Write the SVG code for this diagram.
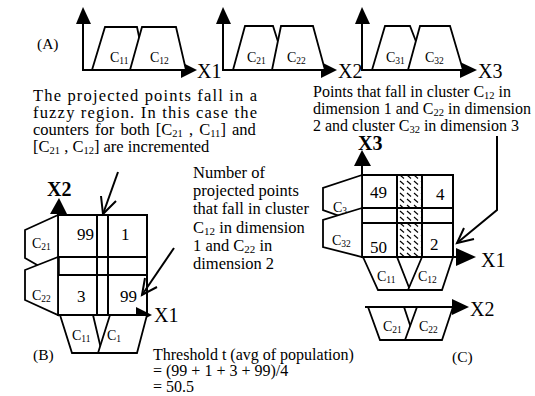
<svg xmlns="http://www.w3.org/2000/svg" width="535" height="396" viewBox="0 0 535 396">
<defs>
<style>
.ln{stroke:#000;stroke-width:2;fill:none}
.tr{stroke:#000;stroke-width:1.8;fill:#fff}
.ah{fill:#000;stroke:none}
.t{font-family:"Liberation Serif","Times New Roman",serif;font-size:15.5px;fill:#000}
.lb{font-family:"Liberation Serif","Times New Roman",serif;font-size:14px;fill:#000}
.ax{font-family:"Liberation Serif","Times New Roman",serif;font-size:20px;fill:#000}
.nm{font-family:"Liberation Serif","Times New Roman",serif;font-size:17px;fill:#000}
.sb{font-size:9.5px}
.p1{font-family:"Liberation Serif","Times New Roman",serif;font-size:16.5px;fill:#000}
.p1 .sb{font-size:10.5px}
.p2{font-family:"Liberation Serif","Times New Roman",serif;font-size:16px;fill:#000}
.p2 .sb{font-size:10.5px}
.p3{font-family:"Liberation Serif","Times New Roman",serif;font-size:16.5px;fill:#000}
.p3 .sb{font-size:11px}
</style>
<pattern id="hatch" width="7" height="6" patternUnits="userSpaceOnUse">
<line x1="1" y1="1" x2="5" y2="4.5" stroke="#000" stroke-width="1.1"/>
</pattern>
</defs>

<!-- Panel A -->
<g id="label-A"><text class="t" x="37" y="49" font-size="16">(A)</text></g>
<g id="axis-x1">
<polyline class="ln" points="83,24 83,70 182,70"/>
<polygon class="ah" points="76,24 91,24 83,7"/>
<polygon class="ah" points="181,62 181,78 197,70"/>
<text class="ax" x="197" y="78">X1</text>
</g>
<g id="c11-a"><polygon class="tr" points="92,70 105,27 137,27 146,70"/><text class="lb" x="110" y="62">C<tspan class="sb" dy="2">11</tspan></text></g>
<g id="c12-a"><polygon class="tr" points="130,70 142,27 176,27 186,70" fill="none"/><text class="lb" x="150" y="62">C<tspan class="sb" dy="2">12</tspan></text></g>

<g id="axis-x2">
<polyline class="ln" points="223,24 223,70 322,70"/>
<polygon class="ah" points="216,24 231,24 223,7"/>
<polygon class="ah" points="321,62 321,78 337,70"/>
<text class="ax" x="338" y="78">X2</text>
</g>
<g id="c21-a"><polygon class="tr" points="233,70 245,26 273,26 287,70"/><text class="lb" x="247" y="62">C<tspan class="sb" dy="2">21</tspan></text></g>
<g id="c22-a"><polygon class="tr" points="272,70 281,26 313,26 325,70" fill="none"/><text class="lb" x="287" y="62">C<tspan class="sb" dy="2">22</tspan></text></g>

<g id="axis-x3">
<polyline class="ln" points="362,24 362,70 461,70"/>
<polygon class="ah" points="355,24 370,24 362,7"/>
<polygon class="ah" points="460,62 460,78 477,70"/>
<text class="ax" x="478" y="78">X3</text>
</g>
<g id="c31-a"><polygon class="tr" points="372,70 385,26 410,26 427,70"/><text class="lb" x="386" y="62">C<tspan class="sb" dy="2">31</tspan></text></g>
<g id="c32-a"><polygon class="tr" points="408,70 420,26 450,26 463,70" fill="none"/><text class="lb" x="425" y="62">C<tspan class="sb" dy="2">32</tspan></text></g>

<!-- Text paragraph left -->
<g id="note-fuzzy">
<text class="p1" x="33" y="101" textLength="224" lengthAdjust="spacing">The projected points fall in a</text>
<text class="p1" x="33" y="118" textLength="224" lengthAdjust="spacing">fuzzy region.  In this case the</text>
<text class="p1" x="33" y="135" word-spacing="2">counters for both [C<tspan class="sb" dy="2">21</tspan><tspan dy="-2"> , C</tspan><tspan class="sb" dy="2">11</tspan><tspan dy="-2">] and</tspan></text>
<text class="p1" x="33" y="152">[C<tspan class="sb" dy="2">21</tspan><tspan dy="-2"> , C</tspan><tspan class="sb" dy="2">12</tspan><tspan dy="-2">] are incremented</tspan></text>
</g>

<!-- Text paragraph right -->
<g id="note-points">
<text class="p2" x="313" y="97">Points that fall in cluster C<tspan class="sb" dy="2">12</tspan><tspan dy="-2"> in</tspan></text>
<text class="p2" x="313" y="114">dimension 1 and C<tspan class="sb" dy="2">22</tspan><tspan dy="-2"> in dimension</tspan></text>
<text class="p2" x="313" y="131">2 and cluster C<tspan class="sb" dy="2">32</tspan><tspan dy="-2"> in dimension 3</tspan></text>
</g>

<!-- Text middle -->
<g id="note-number">
<text class="p3" x="193" y="178">Number of</text>
<text class="p3" x="193" y="196">projected points</text>
<text class="p3" x="193" y="214">that fall in cluster</text>
<text class="p3" x="193" y="233">C<tspan class="sb" dy="2">12</tspan><tspan dy="-2"> in dimension</tspan></text>
<text class="p3" x="193" y="251">1 and C<tspan class="sb" dy="2">22</tspan><tspan dy="-2"> in</tspan></text>
<text class="p3" x="193" y="269">dimension 2</text>
</g>

<!-- Panel B -->
<g id="grid-b">
<rect class="ln" x="58" y="215" width="89" height="100"/>
<line class="ln" x1="97" y1="215" x2="97" y2="315"/>
<line class="ln" x1="108" y1="215" x2="108" y2="315"/>
<line class="ln" x1="58" y1="257" x2="147" y2="257"/>
<line class="ln" x1="58" y1="275" x2="147" y2="275"/>
<line x1="58" y1="257" x2="58" y2="275" stroke="#000" stroke-width="3.5"/>
<text class="nm" x="77" y="240" font-size="16">99</text>
<text class="nm" x="121" y="240" font-size="16">1</text>
<text class="nm" x="77" y="302" font-size="16">3</text>
<text class="nm" x="120" y="302" font-size="16">99</text>
</g>
<g id="axis-b-x2">
<polygon class="ah" points="50,214 67,214 59,198"/>
<text class="ax" x="47" y="196" font-size="17" font-weight="bold">X2</text>
</g>
<g id="c21-b"><polygon class="tr" points="58,215 25,230 25,258 58,277" fill="none"/><text class="lb" x="32" y="248">C<tspan class="sb" dy="2">21</tspan></text></g>
<g id="c22-b"><polygon class="tr" points="58,257 25,270 25,300 58,315" fill="none"/><text class="lb" x="32" y="300">C<tspan class="sb" dy="2">22</tspan></text></g>
<g id="axis-b-x1">
<polygon class="ah" points="136,307 136,323 152,315"/>
<text class="ax" x="154" y="322" font-size="18">X1</text>
</g>
<g id="c11-b"><polygon class="tr" points="60,315 72,353 102,353 93,315" fill="none"/><text class="lb" x="72" y="340">C<tspan class="sb" dy="2">11</tspan></text></g>
<g id="c1-b"><polygon class="tr" points="110,315 98,353 137,353 147,315" fill="none"/><text class="lb" x="107" y="340">C<tspan class="sb" dy="2">1</tspan></text></g>
<g id="label-B"><text class="t" x="33" y="360" font-size="16">(B)</text></g>

<g id="threshold">
<text class="t" x="153" y="360" style="font-size:16px">Threshold t (avg of population)</text>
<text class="t" x="153" y="376" style="font-size:16px">= (99 + 1 + 3 + 99)/4</text>
<text class="t" x="153" y="392" style="font-size:16px">= 50.5</text>
</g>

<!-- Panel C -->
<g id="grid-c">
<rect x="397" y="175" width="25" height="82" fill="url(#hatch)"/>
<rect class="ln" x="362" y="175" width="91" height="82"/>
<line class="ln" x1="397" y1="175" x2="397" y2="257"/>
<line class="ln" x1="422" y1="175" x2="422" y2="257"/>
<line class="ln" x1="362" y1="208" x2="453" y2="208"/>
<line class="ln" x1="362" y1="223" x2="453" y2="223"/>
<text class="nm" x="370" y="198">49</text>
<text class="nm" x="436" y="200">4</text>
<text class="nm" x="370" y="253">50</text>
<text class="nm" x="430" y="250">2</text>
</g>
<g id="axis-c-x3">
<line class="ln" x1="362" y1="165" x2="362" y2="175"/>
<polygon class="ah" points="354,166 371,166 362,150"/>
<text class="ax" x="358" y="150" font-size="17" font-weight="bold">X3</text>
</g>
<g id="c31-c"><polygon class="tr" points="362,175 323,188 323,210 362,224" fill="none"/><text class="lb" x="333" y="212">C<tspan class="sb" dy="2">3</tspan></text></g>
<g id="c32-c"><polygon class="tr" points="362,208 323,220 323,247 362,257" fill="none"/><text class="lb" x="332" y="245">C<tspan class="sb" dy="2">32</tspan></text></g>
<g id="axis-c-x1">
<line class="ln" x1="453" y1="257" x2="458" y2="257"/>
<polygon class="ah" points="456,248 456,266 476,257"/>
<text class="ax" x="481" y="267" font-size="22">X1</text>
</g>
<g id="c11-c"><polygon class="tr" points="363,257 378,290 410,290 397,257" fill="none"/><text class="lb" x="377" y="281">C<tspan class="sb" dy="2">11</tspan></text></g>
<g id="c12-c"><polygon class="tr" points="422,257 408,290 442,290 453,257" fill="none"/><text class="lb" x="418" y="281">C<tspan class="sb" dy="2">12</tspan></text></g>
<g id="axis-c-x2">
<line class="ln" x1="365" y1="307" x2="454" y2="307"/>
<polygon class="ah" points="452,299 452,315 469,307"/>
<text class="ax" x="470" y="316" font-size="21">X2</text>
</g>
<g id="c21-c"><polygon class="tr" points="368,307 380,340 415,340 404,307" fill="none"/><text class="lb" x="383" y="331">C<tspan class="sb" dy="2">21</tspan></text></g>
<g id="c22-c"><polygon class="tr" points="417,307 405,340 442,340 453,307" fill="none"/><text class="lb" x="419" y="331">C<tspan class="sb" dy="2">22</tspan></text></g>
<g id="label-C"><text class="t" x="452" y="362" font-size="16">(C)</text></g>

<!-- Connectors -->
<g id="connectors" class="ln">
<line x1="118" y1="172" x2="103" y2="214"/>
<polyline points="101,196 103,214 116,201"/>
<line x1="174" y1="248" x2="142" y2="295"/>
<polyline points="145,278 142,295 157,287"/>
<polyline points="497,136 497,210 457,243"/>
<polyline points="464,228 457,243 474,239"/>
</g>
</svg>
